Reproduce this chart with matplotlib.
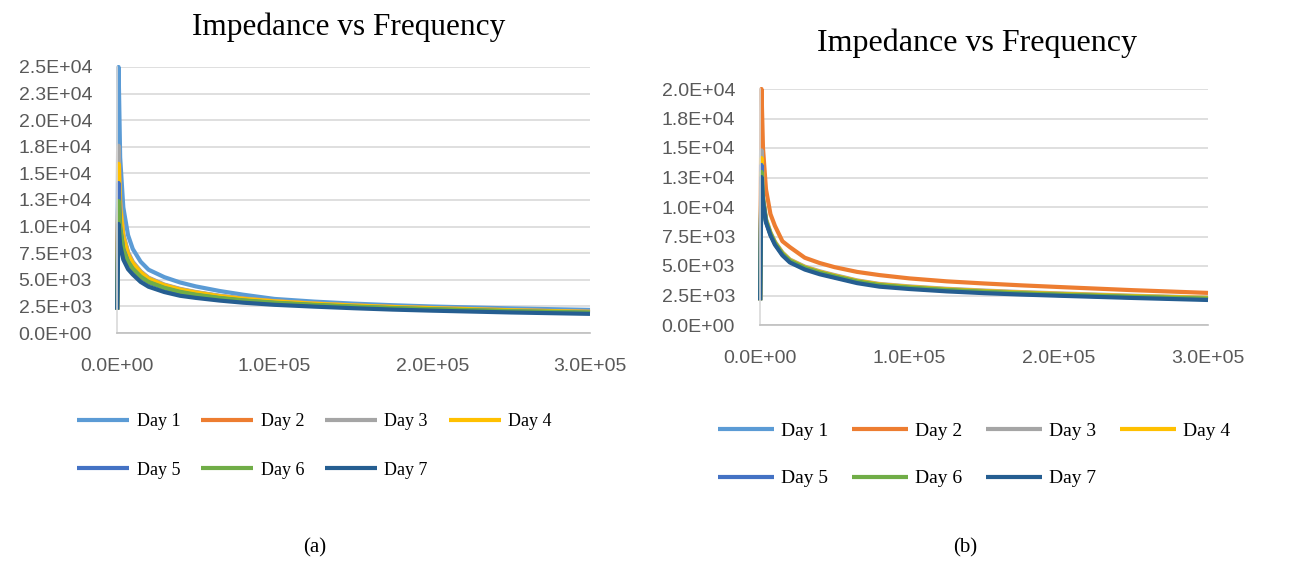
import matplotlib
matplotlib.use("Agg")
import matplotlib.pyplot as plt

# frequency points (Hz), shared by all series
freq = [100, 1000, 2000, 4000, 7000, 10000, 15000, 20000, 30000, 40000,
        50000, 65000, 80000, 100000, 125000, 150000, 175000, 200000, 250000, 300000]

days = ["Day 1", "Day 2", "Day 3", "Day 4", "Day 5", "Day 6", "Day 7"]
colors = ["#5B9BD5", "#ED7D31", "#A5A5A5", "#FFC000", "#4472C4", "#70AD47", "#255E91"]

# (a) impedance values
a_day1 = [2200, 25000, 16500, 11800, 9200, 7900, 6700, 5950, 5250, 4750,
          4380, 3950, 3600, 3200, 2950, 2760, 2610, 2490, 2310, 2170]
a_day2 = [2200, 17000, 12100, 9150, 7500, 6620, 5750, 5150, 4510, 4110,
          3820, 3480, 3230, 2980, 2760, 2590, 2450, 2340, 2140, 1990]
a_day3 = [2200, 17600, 12500, 9300, 7600, 6700, 5800, 5200, 4550, 4150,
          3850, 3500, 3250, 3000, 2780, 2600, 2460, 2350, 2150, 2000]
a_day4 = [2200, 15900, 11800, 9000, 7400, 6550, 5700, 5100, 4480, 4080,
          3800, 3460, 3210, 2970, 2750, 2580, 2440, 2330, 2130, 1980]
a_day5 = [2200, 14100, 10000, 7900, 6700, 6000, 5250, 4750, 4200, 3820,
          3560, 3270, 3040, 2820, 2620, 2460, 2330, 2220, 2040, 1900]
a_day6 = [2200, 12400, 9800, 7800, 6700, 6050, 5300, 4800, 4250, 3870,
          3600, 3300, 3070, 2850, 2650, 2490, 2350, 2240, 2060, 1920]
a_day7 = [2200, 10250, 8300, 6900, 6000, 5500, 4800, 4350, 3850, 3500,
          3300, 3050, 2850, 2650, 2480, 2330, 2200, 2100, 1930, 1800]

# (b) impedance values
b_day1 = [2100, 12800, 10600, 8800, 7700, 6900, 6000, 5400, 4800, 4400,
          4080, 3640, 3340, 3140, 2940, 2790, 2660, 2550, 2360, 2200]
b_day2 = [2100, 20000, 15000, 11500, 9400, 8400, 7100, 6600, 5700, 5250,
          4900, 4500, 4230, 3950, 3700, 3520, 3360, 3220, 2950, 2720]
b_day3 = [2100, 14800, 10900, 9000, 7850, 7050, 6150, 5550, 4950, 4550,
          4230, 3780, 3480, 3270, 3070, 2920, 2790, 2680, 2480, 2320]
b_day4 = [2100, 14150, 10800, 8900, 7800, 7000, 6100, 5500, 4900, 4500,
          4180, 3740, 3440, 3230, 3030, 2880, 2750, 2640, 2450, 2290]
b_day5 = [2100, 13560, 10600, 8780, 7680, 6880, 5980, 5380, 4780, 4380,
          4060, 3630, 3330, 3120, 2920, 2770, 2640, 2540, 2350, 2190]
b_day6 = [2100, 12970, 10650, 8850, 7750, 6950, 6050, 5450, 4850, 4450,
          4130, 3690, 3390, 3180, 2980, 2830, 2700, 2590, 2400, 2240]
b_day7 = [2100, 12540, 10500, 8700, 7600, 6800, 5900, 5300, 4700, 4300,
          4000, 3550, 3250, 3050, 2850, 2700, 2580, 2480, 2290, 2120]

a_series = [a_day1, a_day2, a_day3, a_day4, a_day5, a_day6, a_day7]
b_series = [b_day1, b_day2, b_day3, b_day4, b_day5, b_day6, b_day7]

xticks = [0, 100000, 200000, 300000]
xtick_labels = ["0.0E+00", "1.0E+05", "2.0E+05", "3.0E+05"]
a_yticks = [0, 2500, 5000, 7500, 10000, 12500, 15000, 17500, 20000, 22500, 25000]
a_ytick_labels = ["0.0E+00", "2.5E+03", "5.0E+03", "7.5E+03", "1.0E+04", "1.3E+04",
                  "1.5E+04", "1.8E+04", "2.0E+04", "2.3E+04", "2.5E+04"]
b_yticks = [0, 2500, 5000, 7500, 10000, 12500, 15000, 17500, 20000]
b_ytick_labels = ["0.0E+00", "2.5E+03", "5.0E+03", "7.5E+03", "1.0E+04", "1.3E+04",
                  "1.5E+04", "1.8E+04", "2.0E+04"]

W, H = 1295, 569
fig = plt.figure(figsize=(W / 100, H / 100), dpi=100)


def px_axes(left, top, right, bottom):
    """axes from pixel box of the reference picture"""
    return fig.add_axes([left / W, 1 - bottom / H, (right - left) / W, (bottom - top) / H])


def style_axes(ax, yticks, ylabels, ymax):
    ax.set_xlim(0, 300000)
    ax.set_ylim(0, ymax)
    ax.set_xticks(xticks)
    ax.set_xticklabels(xtick_labels)
    ax.set_yticks(yticks)
    ax.set_yticklabels(ylabels)
    ax.tick_params(length=0, pad=18, labelsize=14, labelcolor="#595959")
    for lab in ax.get_xticklabels() + ax.get_yticklabels():
        lab.set_family("Liberation Sans")
    ax.grid(axis="y", color="#D9D9D9", linewidth=1.2)
    ax.set_axisbelow(True)
    for s in ["top", "right"]:
        ax.spines[s].set_visible(False)
    ax.spines["bottom"].set_color("#BFBFBF")
    ax.spines["left"].set_color("#D9D9D9")
    ax.spines["bottom"].set_linewidth(1.2)
    ax.spines["left"].set_linewidth(1.2)


def draw(ax, series):
    lines = []
    for name, vals, c in zip(days, series, colors):
        ln, = ax.plot(freq, vals, color=c, linewidth=3.0, label=name,
                      solid_joinstyle="round", solid_capstyle="butt", clip_on=False)
        lines.append(ln)
    return lines


ax_a = px_axes(117, 67, 590, 333)
lines_a = draw(ax_a, a_series)
style_axes(ax_a, a_yticks, a_ytick_labels, 25000)

ax_b = px_axes(760, 89, 1208, 325)
lines_b = draw(ax_b, b_series)
style_axes(ax_b, b_yticks, b_ytick_labels, 20000)

# titles
fig.text(349 / W, 1 - 27 / H, "Impedance vs Frequency", ha="center", va="center",
         family="Liberation Serif", fontsize=22.5)
fig.text(977 / W, 1 - 43 / H, "Impedance vs Frequency", ha="center", va="center",
         family="Liberation Serif", fontsize=23)

# legends, row-major order in 4 columns
order = [0, 4, 1, 5, 2, 6, 3]
fig.legend([lines_a[i] for i in order], [days[i] for i in order],
           loc="upper left", bbox_to_anchor=(77 / W, 1 - 413 / H), ncol=4, frameon=False,
           borderpad=0, borderaxespad=0, handlelength=2.9, handletextpad=0.4,
           columnspacing=1.15, labelspacing=1.75,
           prop={"family": "Liberation Serif", "size": 13})
fig.legend([lines_b[i] for i in order], [days[i] for i in order],
           loc="upper left", bbox_to_anchor=(718 / W, 1 - 422 / H), ncol=4, frameon=False,
           borderpad=0, borderaxespad=0, handlelength=2.9, handletextpad=0.36,
           columnspacing=1.2, labelspacing=1.55,
           prop={"family": "Liberation Serif", "size": 14})

# sub-figure captions
fig.text(315 / W, 1 - 548 / H, "(a)", ha="center", va="center",
         family="Liberation Serif", fontsize=15)
fig.text(965 / W, 1 - 548 / H, "(b)", ha="center", va="center",
         family="Liberation Serif", fontsize=15)

fig.savefig("out.png", dpi=100, facecolor="white")
